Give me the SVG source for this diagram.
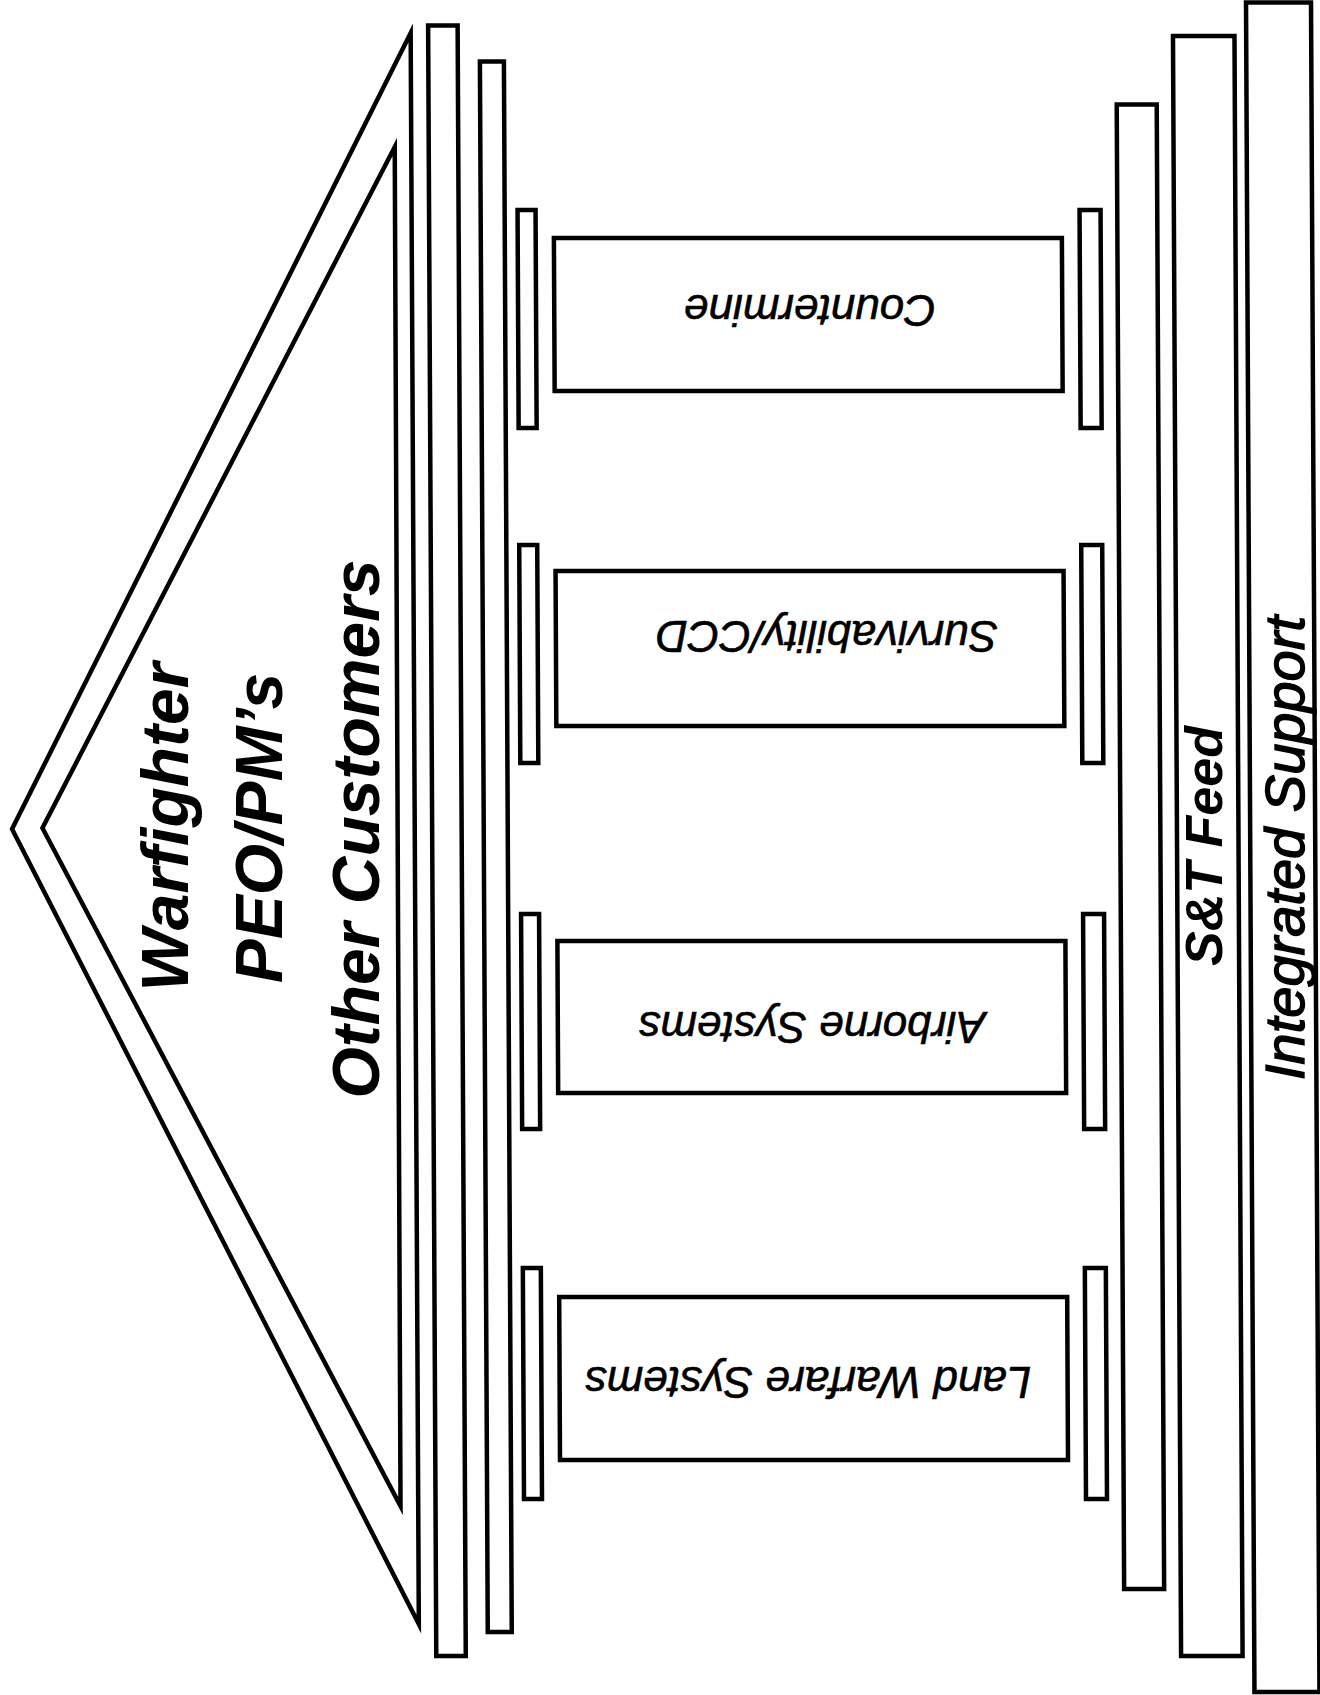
<svg xmlns="http://www.w3.org/2000/svg" width="1320" height="1695" viewBox="0 0 1320 1695">
<style>
.ln{fill:none;stroke:#000;stroke-width:4.5;stroke-linejoin:miter;stroke-miterlimit:12}
.big{font-family:"Liberation Sans",Arial,sans-serif;font-weight:bold;font-style:italic;fill:#000;text-anchor:middle}
.lbl{font-family:"Liberation Sans",Arial,sans-serif;font-style:italic;font-size:44px;fill:#000;stroke:#000;stroke-width:0.6;text-anchor:middle}
.sup{font-family:"Liberation Sans",Arial,sans-serif;font-style:italic;font-size:56px;fill:#000;stroke:#000;stroke-width:1.4;text-anchor:middle}
</style>
<rect width="1320" height="1695" fill="#fff"/>
<g id="shapes" transform="skewX(0.2865)">
  <g id="pediment">
    <polygon class="ln" points="410.5,33 7.9,829 410.7,1624"/>
    <polygon class="ln" points="394,147 38.3,828 393,1506"/>
  </g>
  <g id="beam-a"><rect class="ln" x="428" y="25.5" width="29.5" height="1630.5"/></g>
  <g id="beam-b"><rect class="ln" x="479.6" y="61.5" width="24" height="1570.5"/></g>
  <g id="countermine">
    <rect class="ln" x="516.5" y="210" width="18" height="218"/>
    <rect class="ln" x="552.7" y="238" width="508" height="153"/>
    <rect class="ln" x="1078.5" y="210" width="21" height="218"/>
  </g>
  <g id="survivability">
    <rect class="ln" x="516.5" y="545" width="18" height="218"/>
    <rect class="ln" x="552.7" y="571" width="508" height="155"/>
    <rect class="ln" x="1078.5" y="545" width="21" height="218"/>
  </g>
  <g id="airborne">
    <rect class="ln" x="516.5" y="914" width="18" height="215"/>
    <rect class="ln" x="552.7" y="941" width="508" height="152"/>
    <rect class="ln" x="1078.5" y="914" width="21" height="215"/>
  </g>
  <g id="land-warfare">
    <rect class="ln" x="516.5" y="1268" width="18" height="231"/>
    <rect class="ln" x="552.7" y="1297" width="508" height="163"/>
    <rect class="ln" x="1078.5" y="1268" width="21" height="231"/>
  </g>
  <g id="base-c"><rect class="ln" x="1116.2" y="104.5" width="40" height="1484.5"/></g>
  <g id="st-feed-bar"><rect class="ln" x="1172.8" y="36" width="61.5" height="1620"/></g>
  <g id="integrated-support-bar"><rect class="ln" x="1246" y="2.5" width="65" height="1689.5"/></g>
</g>
<g id="labels">
  <text class="big" font-size="66" transform="translate(188,827) rotate(-90)">Warfighter</text>
  <text class="big" font-size="66" transform="translate(282,828) rotate(-90)">PEO/PM’s</text>
  <text class="big" font-size="66" transform="translate(379,829) rotate(-90)">Other Customers</text>
  <text class="lbl" transform="translate(810,295) rotate(180)">Countermine</text>
  <text class="lbl" transform="translate(827,621) rotate(180)">Survivability/CCD</text>
  <text class="lbl" transform="translate(812,1012) rotate(180)">Airborne Systems</text>
  <text class="lbl" transform="translate(808,1367) rotate(180)">Land Warfare Systems</text>
  <text class="big" font-size="52" transform="translate(1222,846) rotate(-90)">S&amp;T Feed</text>
  <text class="sup" transform="translate(1304,848) rotate(-90)">Integrated Support</text>
</g>
</svg>
